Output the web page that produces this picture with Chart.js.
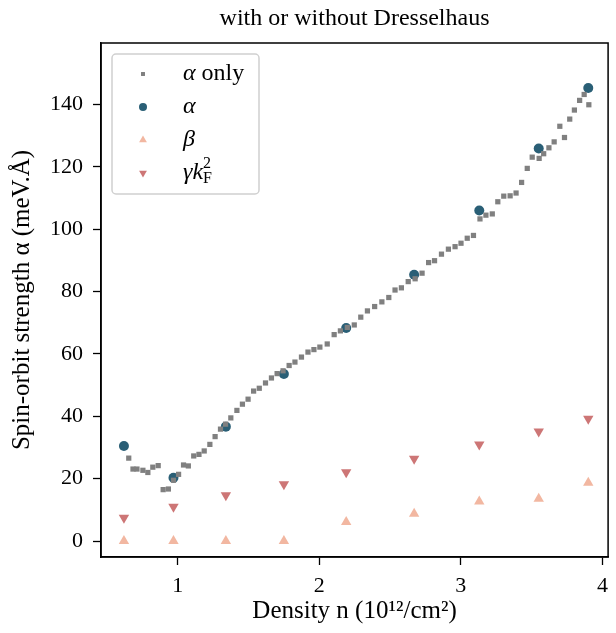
<!DOCTYPE html>
<html>
<head>
<meta charset="utf-8">
<script src="https://cdn.jsdelivr.net/npm/chart.js@4"></script>
<style>
  html, body { margin: 0; padding: 0; background: #fff; }
</style>
</head>
<body>
<canvas id="spin-orbit-chart" width="616" height="633"></canvas>
<script>
// "alpha only" run: density (1e12/cm2) and spin-orbit strength (meV.A)
var densityOnly = [0.654, 0.684, 0.712, 0.754, 0.789, 0.824, 0.862, 0.897, 0.934, 0.970,
  1.006, 1.041, 1.075, 1.113, 1.150, 1.187, 1.227, 1.264, 1.302, 1.338,
  1.375, 1.418, 1.457, 1.497, 1.536, 1.576, 1.620, 1.662, 1.702, 1.744,
  1.787, 1.828, 1.874, 1.920, 1.962, 2.004, 2.056, 2.105, 2.149, 2.198,
  2.247, 2.293, 2.340, 2.391, 2.442, 2.491, 2.535, 2.580, 2.628, 2.677,
  2.726, 2.772, 2.814, 2.863, 2.912, 2.959, 3.001, 3.045, 3.089, 3.135,
  3.177, 3.222, 3.261, 3.303, 3.348, 3.390, 3.429, 3.469, 3.504, 3.553,
  3.585, 3.622, 3.659, 3.699, 3.732, 3.769, 3.802, 3.839, 3.871, 3.904];
var alphaOnly = [26.6, 23.1, 23.1, 22.7, 22.0, 23.7, 24.2, 16.5, 16.7, 19.5,
  21.4, 24.4, 24.1, 27.3, 27.8, 28.9, 31.0, 33.5, 35.9, 37.5,
  39.5, 41.9, 43.9, 45.5, 48.1, 49.0, 50.7, 52.3, 53.7, 54.6,
  56.3, 57.4, 59.0, 60.6, 61.4, 62.2, 63.2, 66.2, 67.4, 68.5,
  69.3, 71.8, 73.8, 75.2, 76.7, 78.1, 80.5, 81.2, 83.2, 84.1,
  85.9, 89.3, 89.9, 92.0, 93.6, 94.4, 95.5, 97.1, 98.0, 103.3,
  104.5, 104.9, 108.8, 110.6, 110.7, 111.6, 115.0, 119.5, 123.1, 122.7,
  124.2, 126.1, 128.0, 133.0, 129.4, 135.3, 138.2, 141.3, 143.2, 139.9];

// fit with Dresselhaus terms
var density = [0.62, 0.97, 1.34, 1.75, 2.19, 2.67, 3.13, 3.55, 3.90];
var alpha = [30.5, 20.3, 36.7, 53.6, 68.3, 85.4, 106.0, 125.9, 145.3];
var beta = [0, 0, 0, 0, 6.1, 8.8, 12.7, 13.6, 18.7];
var gammaKF2 = [7.5, 11.0, 14.7, 18.2, 22.1, 26.4, 31.0, 35.1, 39.2];

var xTicks = [1, 2, 3, 4];
var yTicks = [0, 20, 40, 60, 80, 100, 120, 140];

var serif = "'Liberation Serif', 'DejaVu Serif', serif";

function toPoints(xs, ys) {
  return xs.map(function(x, i) { return { x: x, y: ys[i] }; });
}

var datasets = [
  { label: 'alpha only', data: toPoints(densityOnly, alphaOnly), pointStyle: 'rect',
    pointRadius: 3.7, backgroundColor: '#808080', borderWidth: 0 },
  { label: 'alpha', data: toPoints(density, alpha), pointStyle: 'circle',
    pointRadius: 5, backgroundColor: '#2a5f76', borderWidth: 0 },
  { label: 'beta', data: toPoints(density, beta), pointStyle: 'triangle',
    pointRadius: 6, backgroundColor: '#f2b7a1', borderWidth: 0 },
  { label: 'gamma kF2', data: toPoints(density, gammaKF2), pointStyle: 'triangle',
    pointRadius: 6, rotation: 180, backgroundColor: '#cd7676', borderWidth: 0 }
];

// rich text: runs of {t, it, size, dy, stack}
function drawRuns(ctx, runs, x, y, size) {
  runs.forEach(function(r) {
    var s = r.size || size;
    ctx.font = (r.it ? 'italic ' : '') + s + 'px ' + serif;
    ctx.fillText(r.t, x, y + (r.dy || 0));
    if (!r.stack) x += ctx.measureText(r.t).width;
  });
  return x;
}

var legendEntries = [
  [{ t: 'α', it: true }, { t: ' only' }],
  [{ t: 'α', it: true }],
  [{ t: 'β', it: true }],
  [{ t: 'γk', it: true }, { t: 'F', size: 16, dy: 6, stack: true }, { t: '2', size: 16, dy: -9 }]
];

var decorations = {
  id: 'decorations',
  afterDraw: function(chart) {
    var ctx = chart.ctx;
    var area = chart.chartArea;
    ctx.save();

    // frame
    ctx.strokeStyle = '#000';
    ctx.lineWidth = 1.5;
    ctx.strokeRect(area.left, area.top, area.right - area.left, area.bottom - area.top);

    // title
    ctx.fillStyle = '#000';
    ctx.textAlign = 'center';
    ctx.textBaseline = 'middle';
    ctx.font = '24px ' + serif;
    ctx.fillText('with or without Dresselhaus', (area.left + area.right) / 2, 19);

    // legend box
    var bx = area.left + 11, by = area.top + 11, bw = 147, bh = 140;
    ctx.beginPath();
    ctx.roundRect(bx, by, bw, bh, 4);
    ctx.fillStyle = 'rgba(255,255,255,0.8)';
    ctx.fill();
    ctx.strokeStyle = '#d0d0d0';
    ctx.lineWidth = 1.5;
    ctx.stroke();

    var sizes = [2.8, 4, 4.5, 4.5];
    legendEntries.forEach(function(runs, i) {
      var ds = chart.data.datasets[i];
      var y = by + 20 + i * 33;
      ctx.fillStyle = ds.backgroundColor;
      Chart.helpers.drawPoint(ctx, {
        pointStyle: ds.pointStyle, radius: sizes[i], rotation: ds.rotation || 0, borderWidth: 0
      }, bx + 31, y);
      ctx.fillStyle = '#000';
      ctx.textAlign = 'left';
      ctx.textBaseline = 'middle';
      drawRuns(ctx, runs, bx + 71, y, 24);
    });
    ctx.restore();
  }
};

var tickFont = { family: serif, size: 22 };
var labelFont = { family: serif, size: 25 };

new Chart(document.getElementById('spin-orbit-chart'), {
  type: 'scatter',
  data: { datasets: datasets },
  plugins: [decorations],
  options: {
    responsive: false,
    animation: false,
    layout: { padding: { top: 43, right: 2, left: 0, bottom: 0 } },
    plugins: { legend: { display: false }, tooltip: { enabled: false } },
    scales: {
      x: {
        type: 'linear', min: 0.458, max: 4.04,
        afterFit: function(scale) { scale.height = 76; },
        afterBuildTicks: function(scale) { scale.ticks = xTicks.map(function(v) { return { value: v }; }); },
        ticks: { font: tickFont, color: '#000', padding: 8 },
        grid: { drawOnChartArea: false, drawTicks: true, tickLength: 8, tickWidth: 1.3, tickColor: '#000' },
        border: { display: true, color: '#000', width: 1.5 },
        title: { display: true, text: 'Density n (10¹²/cm²)', font: labelFont, color: '#000',
          padding: { top: 0, bottom: 7 } }
      },
      y: {
        type: 'linear', min: -5.1, max: 159.7,
        afterFit: function(scale) { scale.width = 101; },
        afterBuildTicks: function(scale) { scale.ticks = yTicks.map(function(v) { return { value: v }; }); },
        ticks: { font: tickFont, color: '#000', padding: 10 },
        grid: { drawOnChartArea: false, drawTicks: true, tickLength: 8, tickWidth: 1.3, tickColor: '#000' },
        border: { display: true, color: '#000', width: 1.5 },
        title: { display: true, text: 'Spin-orbit strength α (meV.Å)', font: labelFont, color: '#000',
          padding: { top: 7, bottom: 0 } }
      }
    }
  }
});
</script>
</body>
</html>
